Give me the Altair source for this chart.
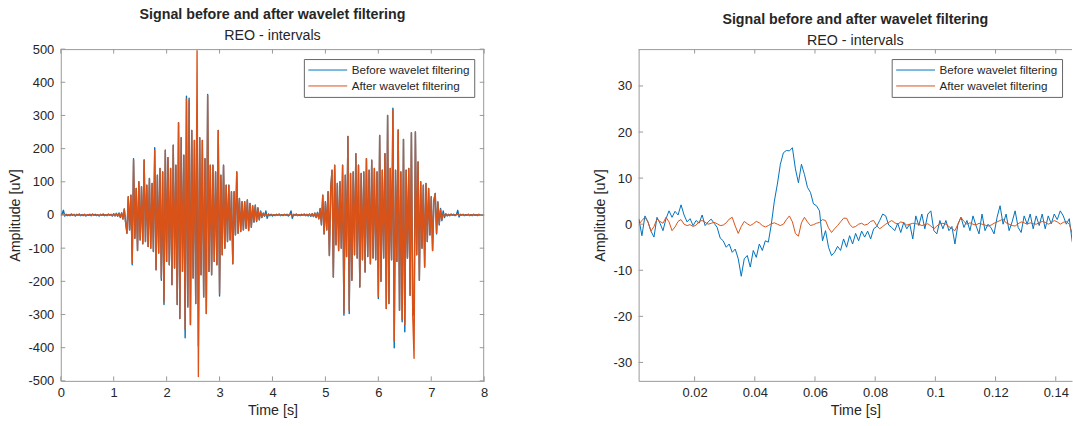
import altair as alt
import numpy as np
import pandas as pd

# ---------------- data ----------------
SERIES = ["Before wavelet filtering", "After wavelet filtering"]

# left panel: 0 .. 8 s, one value every 0.025 s
before_rest_1 = [0, 3, 14, -3, 2, -2, 1, -2, 3, -1, 2, -3, 2, -1, 3, -2, 1, -2, 2, -3,
                 1, -1, 2, -2, 3, -1, 2, -2, 1, -3, 2, -1, 3, -2, 1, -2, 3, -1, 2, -3,
                 4, -3, 5, -4, 6, -8]
before_burst_1 = [6, -12, 18, -22, -55, 55, -45, 60, -150, 170,
                  -70, 80, -107, 100, -75, 85, -87, 166, -80, 90,
                  -95, 110, -100, 95, -110, 203, -165, 120, -115, 140,
                  -197, 130, -270, 195, -140, 173, -150, 140, -210, 210,
                  -160, 150, -270, 278, -312, 233, -170, 180, -370, 358,
                  -277, 352, -330, 255, -190, 225, -267, 300, -395, 233,
                  -180, 225, -247, 170, -297, 363, -170, 150, -180, 150,
                  -140, 130, -150, 255, -244, 120, -120, 150, -100, 90,
                  -80, 90, -75, 70, -147, 70, -60, 130, -55, 50,
                  -50, 40, -45, 40, -40, 45, -47, 35, -37, 28,
                  -22, 30, -20, 22, -15, 12, -8, 6, -4]
before_rest_2 = [12, -10, 3, -2, 2, -3, 1, -2, 2, -1, 3, -2, 1, -2, 2, -1, 2, -3, 1, 12,
                 -10, 2, -1, 3, -2, 1, -2, 2, -1, 3, -2, 2, -3, 3, -4, 4, -5, 6, -8]
before_burst_2 = [8, -12, 20, -30, 60, -57, 40, -45, 70, -122,
                  80, 135, -187, 150, -90, 95, -107, 100, -100, 150,
                  -302, 120, -125, 237, -297, 125, -197, 130, -120, 185,
                  -130, 150, -217, 125, -135, 130, -172, 170, -125, 135,
                  -147, 165, -130, 140, -135, 130, -252, 240, -200, 135,
                  -130, 185, -282, 300, -267, 140, -135, 322, -400, 135,
                  -140, 256, -287, 130, -322, 228, -352, 135, -130, 140,
                  -242, 248, -302, -300, 250, -120, 160, -197, 100, -100,
                  90, -157, 95, -80, 80, -60, 55, -107, 45, 65,
                  -57, 40, -30, 20, -17]
before_rest_3 = [12, -8, 4, -3, 2, -2, 3, -1, 2, -2, 1, 14, -6, 2, -1, 2, -2, 1, -1, 2,
                 -2, 1, -2, 2, -1, 1, -2, 2, -1, 1, -1, 0]

after_rest_1 = [0, 1, 2, -1, 0, 0, 1, -1, 0, 1, 0, -1, 0, 1, 0, -1, 0, 0, 1, -1,
                0, 1, -1, 0, 1, 0, -1, 0, 1, -1, 0, 1, -1, 0, 1, -1, 1, -1, 1, -2,
                2, -2, 3, -3, 4, -5]
after_burst_1 = [6, -12, 18, -22, -55, 55, -45, 60, -145, 165,
                 -70, 80, -107, 100, -75, 85, -87, 166, -80, 90,
                 -95, 110, -100, 95, -110, 195, -165, 120, -115, 140,
                 -190, 130, -262, 195, -140, 173, -150, 140, -210, 210,
                 -160, 150, -270, 278, -312, 233, -170, 180, -345, 350,
                 -277, 345, -330, 255, -190, 225, -267, 495, -487, 233,
                 -180, 225, -247, 170, -297, 360, -170, 150, -180, 150,
                 -140, 130, -150, 255, -236, 120, -120, 150, -100, 90,
                 -80, 90, -75, 70, -147, 70, -60, 130, -55, 50,
                 -50, 40, -45, 40, -40, 45, -47, 35, -37, 28,
                 -20, 28, -18, 20, -13, 10, -6, 4, -2]
after_rest_2 = [3, -3, 1, -1, 0, 0, 1, -1, 0, 0, 1, -1, 0, 0, 1, -1, 0, 0, 1, 3,
                -3, 1, 0, 0, -1, 1, 0, -1, 1, 0, -1, 1, -1, 2, -2, 3, -4, 5, -7]
after_burst_2 = [6, -10, 18, -28, 60, -57, 40, -45, 70, -122,
                 80, 135, -187, 150, -90, 95, -107, 100, -100, 150,
                 -295, 120, -125, 237, -288, 125, -197, 130, -120, 185,
                 -130, 150, -217, 125, -135, 130, -172, 170, -125, 135,
                 -147, 165, -130, 140, -135, 130, -245, 240, -200, 135,
                 -130, 185, -282, 300, -267, 140, -135, 318, -380, 135,
                 -140, 256, -287, 130, -315, 228, -330, 135, -130, 140,
                 -242, 248, -302, -432, 250, -120, 160, -197, 100, -100,
                 90, -157, 95, -80, 80, -60, 55, -107, 45, 65,
                 -54, 37, -27, 17, -14]
after_rest_3 = [4, -3, 1, -1, 0, 0, 1, -1, 0, 0, 1, 3, -2, 0, 0, 1, -1, 0, 0, 1,
                -1, 0, 0, 1, -1, 0, 0, 1, -1, 0, 0, 0]

# right panel: 1.5 ms .. 145.5 ms, one value every 1 ms
short_before = [1.1, -2.5, 1.8, 0.5, -1.5, -2.8, 1.5, 0.2, -1.4, 1.2,
                2.9, 1.5, 2.8, 2.0, 4.2, 2.0, 0.5, 1.2, -0.3, 0.8,
                0.2, 2.0, -0.3, 0.5, 1.1, 0.2, -0.7, -3.0, -3.6, -5.0,
                -4.3, -6.1, -5.4, -7.5, -11.3, -7.5, -6.8, -9.3, -5.7, -7.2,
                -4.3, -5.7, -3.6, -3.9, 0.0, 5.0, 8.7, 13.0, 15.5, 16.0,
                15.9, 16.6, 12.0, 9.0, 13.0, 10.8, 8.0, 6.9, 4.4, 4.0,
                2.9, -3.6, -1.4, -5.0, -6.8, -6.1, -4.8, -5.7, -3.2, -5.0,
                -2.5, -4.3, -2.0, -3.6, -1.5, -2.8, -1.5, -3.2, -1.0, -0.5,
                0.8, 2.2, 1.8, -0.2, -0.7, -1.4, 0.2, -1.8, 0.4, -1.0,
                0.0, -3.2, 1.8, -0.3, 2.2, -1.0, 2.2, 2.9, -1.4, -2.1,
                0.8, -1.0, 0.8, -1.4, -0.5, -4.3, 0.0, 1.5, -0.7, 0.8,
                -1.4, 1.8, -0.3, -2.1, 2.2, -1.4, 0.0, -0.8, -2.1, 1.5,
                4.0, 0.0, 2.2, -1.4, 0.5, 2.9, -0.7, -1.8, 1.8, 0.0,
                2.2, -1.0, 1.8, -0.3, 2.2, -1.0, 1.8, 0.1, 2.2, 1.0,
                2.9, 1.8, 0.0, 1.2, -3.9]
short_after = [0.0, 0.8, 1.5, 0.5, -1.5, -0.5, 1.1, 0.6, 0.2, 1.5,
               0.5, -1.4, -0.6, 0.6, 1.0, 0.0, -0.3, -0.1, -0.5, -0.2,
               0.6, 0.8, 0.4, 0.0, 0.2, 0.4, 0.1, -0.3, -0.2, 0.3,
               1.1, 1.5, -0.4, -2.0, -0.5, 0.6, 0.1, -0.3, 0.1, 0.6,
               0.3, -0.3, -0.6, -0.3, 0.1, 0.3, 0.0, -0.3, 0.0, 1.0,
               1.8, 0.5, -2.0, -2.6, 0.3, 1.5, 0.5, -0.3, -0.1, 0.2,
               0.4, 1.0, 0.8, -0.8, -1.8, -1.0, -0.3, 0.5, 1.3, 1.3,
               0.0, -0.7, -0.5, 0.0, 0.2, -0.2, 0.0, 0.6, 0.8, -0.3,
               -1.0, -0.5, 0.0, 0.4, 0.8, 0.3, 0.0, 0.5, 0.3, -0.2,
               0.0, 0.2, 0.1, 0.0, -0.3, -0.1, 0.1, -0.4, -1.0, -0.4,
               0.1, 0.2, 0.0, -0.5, -1.0, -1.4, 0.0, 1.5, 0.6, 0.0,
               0.3, 0.0, -0.2, 0.2, 0.0, -0.2, -0.4, -0.2, 0.2, 0.5,
               0.8, 1.1, 0.3, 0.0, -0.3, -0.4, 0.1, 0.5, 0.3, 0.0,
               0.3, 0.1, 0.0, 0.3, 0.6, 0.4, 0.0, 0.3, 0.8, 0.5,
               0.0, 0.4, 0.6, 0.0, -2.1]

long_x_ticks = [0, 1, 2, 3, 4, 5, 6, 7, 8]
long_y_ticks = [-500, -400, -300, -200, -100, 0, 100, 200, 300, 400, 500]
short_x_ticks = [0.02, 0.04, 0.06, 0.08, 0.1, 0.12, 0.14]
short_y_ticks = [-30, -20, -10, 0, 10, 20, 30]

long_before = before_rest_1 + before_burst_1 + before_rest_2 + before_burst_2 + before_rest_3
long_after = after_rest_1 + after_burst_1 + after_rest_2 + after_burst_2 + after_rest_3
t_long = np.linspace(0, 8, len(long_before))
t_long_a = np.linspace(0, 8, len(long_after))
t_short = 0.0015 + 0.001 * np.arange(len(short_before))
t_short_a = 0.0015 + 0.001 * np.arange(len(short_after))

# ---------------- style ----------------
FONT = "Liberation Sans"
TXT = "#262626"
AX = "#9a9a9a"
BLUE = "#0072BD"
ORANGE = "#D95319"
TL = 4.5
H = 333
LBL = "'' + datum.value"
BIG = 14.3


def panel(tb, vb, ta, va, xdom, ydom, xticks, yticks, w, sw, right_edge):
    df_b = pd.DataFrame({"t": tb, "v": vb, "s": SERIES[0]})
    df_a = pd.DataFrame({"t": ta, "v": va, "s": SERIES[1]})
    xenc = alt.X("t:Q", scale=alt.Scale(domain=xdom, nice=False, zero=False),
                 axis=alt.Axis(values=xticks, labelExpr=LBL, title="Time [s]",
                               labelFlush=False, labelOverlap=False, ticks=False,
                               tickSize=0, labelPadding=6, titlePadding=4, grid=False))
    yenc = alt.Y("v:Q", scale=alt.Scale(domain=ydom, nice=False, zero=False),
                 axis=alt.Axis(values=yticks, labelExpr=LBL, title="Amplitude [uV]",
                               labelFlush=False, labelOverlap=False, ticks=False,
                               tickSize=0, labelPadding=7, titlePadding=5, grid=False))
    color = alt.Color("s:N", scale=alt.Scale(domain=SERIES, range=[BLUE, ORANGE]),
                      legend=alt.Legend(title=None, orient="top-right", offset=10,
                                        symbolType="M-3,0H3", symbolSize=169,
                                        symbolStrokeWidth=1, symbolOffset=13,
                                        labelOffset=17, padding=4, rowPadding=2,
                                        strokeColor="#666666", fillColor="white",
                                        labelFont=FONT, labelFontSize=11.7,
                                        labelColor=TXT, labelLimit=300))
    lb = alt.Chart(df_b).mark_line(strokeWidth=sw, strokeJoin="round", clip=True).encode(
        x=xenc, y=yenc, color=color)
    la = alt.Chart(df_a).mark_line(strokeWidth=sw, strokeJoin="round", clip=True).encode(
        x=xenc, y=yenc, color=color)

    xt = pd.DataFrame({"t": xticks})
    yt = pd.DataFrame({"v": yticks})
    one = pd.DataFrame({"a": [0]})
    layers = [lb, la]
    layers.append(alt.Chart(xt).mark_rule(color=AX, strokeWidth=1).encode(
        x=xenc, y=alt.value(H), y2=alt.value(H - TL)))
    layers.append(alt.Chart(xt).mark_rule(color=AX, strokeWidth=1).encode(
        x=xenc, y=alt.value(0), y2=alt.value(TL)))
    layers.append(alt.Chart(yt).mark_rule(color=AX, strokeWidth=1).encode(
        y=yenc, x=alt.value(0), x2=alt.value(TL)))
    layers.append(alt.Chart(one).mark_rule(color=AX, strokeWidth=1).encode(
        x=alt.value(0), x2=alt.value(w), y=alt.value(0.5)))
    if right_edge:
        layers.append(alt.Chart(yt).mark_rule(color=AX, strokeWidth=1).encode(
            y=yenc, x=alt.value(w - TL), x2=alt.value(w)))
        layers.append(alt.Chart(one).mark_rule(color=AX, strokeWidth=1).encode(
            x=alt.value(w - 0.5), y=alt.value(0), y2=alt.value(H)))
    return alt.layer(*layers).properties(
        width=w, height=H,
        title=alt.TitleParams(text="Signal before and after wavelet filtering",
                              subtitle="REO - intervals", font=FONT, fontSize=BIG,
                              fontWeight="bold", color=TXT, subtitleFont=FONT,
                              subtitleFontSize=BIG, subtitleColor=TXT,
                              subtitlePadding=6.7, anchor="middle", offset=0))


left = panel(t_long, long_before, t_long_a, long_after, [0, 8], [-500, 500],
             long_x_ticks, long_y_ticks, 425, 1.4, True)
right = panel(t_short, short_before, t_short_a, short_after, [0.0014, 0.1454], [-34, 38],
              short_x_ticks, short_y_ticks, 435, 1.0, False)

chart = alt.hconcat(left, right, spacing=106).resolve_scale(
    color="independent"
).resolve_legend(
    color="independent"
).properties(
    padding={"left": 8, "top": 6.5, "right": 0, "bottom": 0}
).configure_view(stroke=None).configure_axis(
    labelFont=FONT, labelFontSize=13, labelColor=TXT,
    titleFont=FONT, titleFontSize=BIG, titleFontWeight="normal", titleColor=TXT,
    domainColor=AX, domainWidth=1
)

chart.save("out.html", embed_options={"renderer": "svg", "actions": False})
